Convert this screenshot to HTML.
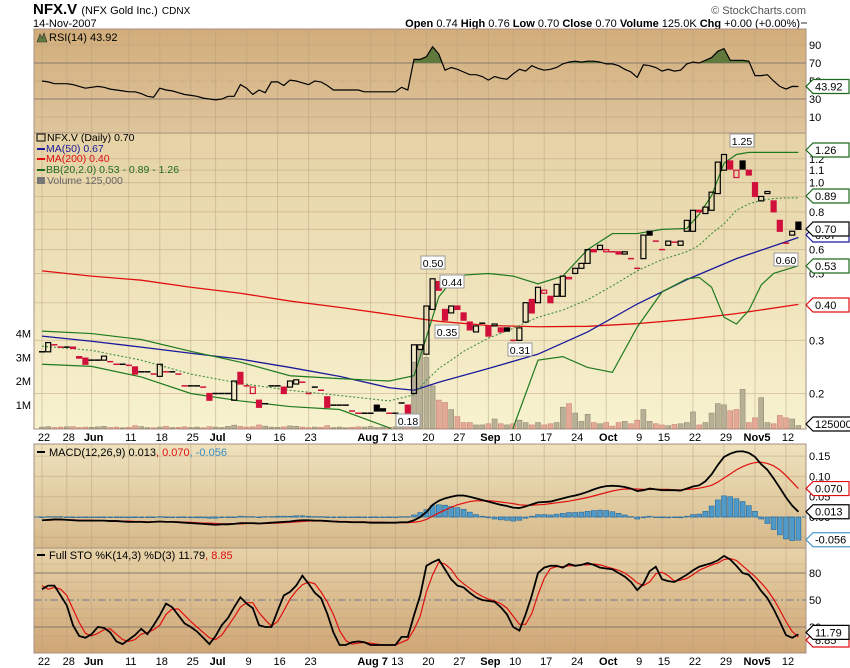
<!DOCTYPE html>
<html><head><meta charset="utf-8"><style>
html,body{margin:0;padding:0;background:#fff;width:850px;height:668px;overflow:hidden}
svg{display:block;font-family:"Liberation Sans",sans-serif}
</style></head><body>
<svg id="chart" width="850" height="668" viewBox="0 0 850 668" xmlns="http://www.w3.org/2000/svg">
<defs>
<linearGradient id="gRsi" x1="0" y1="0" x2="0" y2="1"><stop offset="0" stop-color="#d2ad7b"/><stop offset="1" stop-color="#dec59c"/></linearGradient>
<linearGradient id="gPrice" x1="0" y1="0" x2="0" y2="1"><stop offset="0" stop-color="#e5d2a5"/><stop offset="1" stop-color="#f8f2cf"/></linearGradient>
<linearGradient id="gMacd" x1="0" y1="0" x2="0" y2="1"><stop offset="0" stop-color="#eee2bd"/><stop offset="1" stop-color="#d6b98a"/></linearGradient>
<linearGradient id="gSto" x1="0" y1="0" x2="0" y2="1"><stop offset="0" stop-color="#e7d2a8"/><stop offset="1" stop-color="#cfa676"/></linearGradient>
<clipPath id="cRsi"><rect x="34" y="29" width="772" height="104"/></clipPath>
<clipPath id="cRsi70"><rect x="34" y="29" width="772" height="34"/></clipPath>
<clipPath id="cPrice"><rect x="34" y="133" width="772" height="296"/></clipPath>
<clipPath id="cMacd"><rect x="34" y="444" width="772" height="104"/></clipPath>
<clipPath id="cSto"><rect x="34" y="548" width="772" height="105"/></clipPath>
</defs>
<g>
<text x="33" y="14" font-size="15" font-weight="bold" fill="#000">NFX.V <tspan font-size="11" font-weight="normal">(NFX Gold Inc.)</tspan> <tspan font-size="10" font-weight="normal">CDNX</tspan></text>
<text x="33" y="27" font-size="11" fill="#000">14-Nov-2007</text>
<text x="806" y="14" font-size="11" fill="#555" text-anchor="end">© StockCharts.com</text>
<text x="800" y="27" font-size="11" fill="#000" text-anchor="end"><tspan font-weight="bold">Open</tspan> 0.74 <tspan font-weight="bold">High</tspan> 0.76 <tspan font-weight="bold">Low</tspan> 0.70 <tspan font-weight="bold">Close</tspan> 0.70 <tspan font-weight="bold">Volume</tspan> 125.0K <tspan font-weight="bold">Chg</tspan> +0.00 (+0.00%)</text>
<rect x="801" y="22" width="6" height="2" fill="#999"/>
</g>
<rect x="34" y="29" width="772" height="104" fill="url(#gRsi)" stroke="#a89080"/>
<rect x="34" y="133" width="772" height="296" fill="url(#gPrice)" stroke="#a89080"/>
<rect x="34" y="444" width="772" height="104" fill="url(#gMacd)" stroke="#a89080"/>
<rect x="34" y="548" width="772" height="105" fill="url(#gSto)" stroke="#a89080"/>
<g id="layer"></g>
</svg>
<script>
// ---------- data ----------
const weekIdx=[0,4,8,14,19,24,28,33,38,43,53,57,62,67,72,76,81,86,91,96,100,105,110,115,120];
const weekLabels=["22","28","Jun","11","18","25","Jul","9","16","23","Aug 7","13","20","27","Sep","10","17","24","Oct","9","15","22","29","Nov5","12"];
const weekBold=[0,0,1,0,0,0,1,0,0,0,1,0,0,0,1,0,0,0,1,0,0,0,0,1,0];
const opens=[.275,.275,.29,.285,.285,.285,.265,.262,.258,.258,.258,.255,.25,.25,.248,.245,.235,.236,.232,.228,.236,.236,.232,.212,.212,.212,.21,.2,.2,.2,.2,.19,.235,.212,.2,.19,.185,.212,.212,.21,.21,.215,.218,.2,.21,.205,.195,.183,.183,.183,.175,.172,.172,.172,.183,.178,.172,.172,.186,.183,.2,.28,.27,.38,.47,.38,.37,.39,.37,.345,.32,.342,.335,.335,.33,.33,.3,.3,.345,.41,.4,.43,.42,.42,.42,.48,.5,.52,.54,.6,.6,.59,.59,.59,.58,.56,.52,.56,.69,.64,.6,.62,.64,.62,.69,.69,.81,.79,.81,.92,1.1,1.18,1.04,1.18,1.1,1.0,.87,.92,.87,.75,.63,.67,.74];
const closes=[.275,.295,.29,.285,.285,.282,.262,.25,.258,.258,.266,.255,.25,.25,.248,.232,.236,.236,.232,.25,.236,.236,.232,.212,.212,.212,.21,.19,.2,.2,.2,.22,.215,.212,.21,.18,.185,.212,.212,.2,.22,.222,.218,.2,.21,.205,.18,.183,.183,.183,.175,.172,.172,.172,.175,.175,.172,.172,.186,.17,.29,.29,.39,.48,.44,.35,.39,.38,.35,.325,.335,.342,.31,.34,.32,.322,.3,.33,.4,.37,.45,.44,.4,.46,.49,.485,.52,.54,.6,.59,.62,.6,.59,.58,.59,.56,.52,.67,.67,.64,.6,.64,.635,.64,.75,.81,.8,.83,.93,1.17,1.24,1.11,1.1,1.11,1.06,.9,.9,.935,.8,.69,.63,.69,.70];
const volumes=[60,80,40,60,70,80,40,60,50,70,90,40,60,30,50,120,80,40,30,60,90,40,50,70,40,60,30,80,60,40,90,140,90,60,70,150,100,60,50,70,110,90,60,40,60,50,120,40,60,30,50,70,60,90,40,60,50,70,110,160,2800,3300,3000,1800,1200,1100,800,500,250,250,150,150,200,400,200,150,200,350,250,150,250,150,200,250,900,1050,650,300,600,250,200,250,100,250,300,200,350,800,300,200,150,120,170,200,250,700,150,250,650,1050,1000,750,800,1650,250,450,1300,250,200,550,450,400,125];
const maIdx=[0,8,16,24,32,40,48,56,60,64,72,80,88,96,104,112,122];
const ma50=[.31,.298,.285,.272,.26,.244,.228,.209,.205,.218,.242,.27,.32,.396,.477,.56,.658];
const ma200=[.51,.49,.475,.45,.43,.405,.386,.366,.356,.347,.336,.333,.334,.341,.352,.368,.395];
const bbIdx=[0,8,16,24,32,40,48,56,60,62,64,66,68,72,76,80,84,88,92,96,100,104,106,108,110,112,114,116,118,120,122];
const bbUpper=[.322,.316,.302,.276,.254,.229,.224,.22,.229,.307,.418,.47,.494,.5,.49,.462,.49,.6,.678,.678,.7,.705,.786,.905,1.16,1.24,1.26,1.26,1.26,1.26,1.26];
const bbMid=[.287,.278,.258,.232,.216,.205,.197,.189,.198,.221,.242,.258,.276,.305,.329,.358,.378,.409,.455,.51,.556,.59,.62,.678,.73,.81,.85,.874,.886,.89,.89];
const bbLower=[.25,.246,.227,.2,.189,.181,.177,.154,.132,.109,.074,.055,.055,.074,.154,.258,.265,.244,.235,.332,.434,.48,.485,.45,.358,.34,.377,.458,.5,.515,.53];
const rsi=[50,49,47,47,47,46,44,42,43,44,43,41,40,39,38,38,36,33,32,42,40,39,37,35,34,33,31,30,29,30,33,33,46,42,35,40,37,49,49,45,51,50,48,46,50,49,45,40,40,40,40,40,38,38,38,38,38,38,43,40,74,74,77,88,80,62,65,63,60,57,57,55,51,55,53,52,58,63,61,67,64,62,63,65,69,71,72,71,72,72,71,69,69,67,63,60,54,68,67,65,61,63,61,62,69,71,70,73,76,83,86,73,73,73,72,56,56,57,50,44,41,44,43.92];
const macd=[-8,-7,-6,-6,-7,-8,-9,-9,-9,-9,-9,-10,-10,-11,-12,-12,-12,-13,-12,-11,-12,-12,-13,-14,-15,-16,-17,-18,-19,-18,-18,-17,-15,-15,-15,-16,-15,-14,-13,-12,-11,-9,-8,-8,-9,-9,-10,-11,-12,-12,-13,-13,-13,-14,-14,-14,-14,-14,-13,-13,-8,0,12,30,40,46,50,53,53,50,46,42,38,34,30,27,23,22,26,31,36,37,38,42,46,50,53,57,62,68,73,76,77,76,74,70,64,66,70,68,66,66,66,65,70,75,78,88,105,128,148,156,161,162,158,148,130,116,95,72,48,28,13];
const signal=[-8,-8,-7,-7,-7,-7,-8,-8,-8,-9,-9,-9,-9,-10,-10,-11,-11,-12,-12,-12,-12,-12,-12,-13,-13,-14,-15,-15,-16,-17,-17,-17,-17,-16,-16,-16,-16,-15,-15,-14,-13,-12,-11,-10,-10,-10,-10,-10,-11,-11,-12,-12,-12,-13,-13,-13,-14,-14,-14,-14,-13,-11,-6,2,10,17,24,30,34,38,40,40,40,39,37,35,33,30,29,29,30,31,33,35,37,39,42,45,48,52,56,60,64,67,69,69,69,68,68,68,68,68,67,67,68,69,71,74,78,86,96,106,116,124,130,134,135,132,126,116,102,86,70];
const stoK=[62,66,66,55,44,22,10,8,12,20,19,14,4,1,6,11,18,12,22,33,46,42,33,24,20,15,8,1,10,22,30,42,53,46,41,22,20,20,38,55,59,66,77,68,58,52,35,14,0,0,3,4,3,0,0,0,0,0,9,9,33,55,88,92,95,84,73,66,64,58,53,50,49,48,42,34,20,16,34,55,80,86,88,88,86,90,88,89,91,89,86,85,84,80,76,70,61,68,82,87,73,71,70,74,78,83,87,89,91,94,99,95,88,80,78,70,60,52,40,26,11,8,11.79];
const stoD=[66,62,64,62,55,40,25,13,10,13,17,18,12,6,4,6,12,14,17,22,34,40,40,33,26,20,14,8,6,11,21,31,42,47,47,36,28,21,26,38,51,60,67,70,68,59,48,34,16,5,1,2,3,2,1,0,0,0,3,6,17,32,59,78,92,90,84,74,68,63,58,54,51,49,46,41,32,23,23,35,56,74,85,87,87,88,88,89,89,90,89,87,85,83,80,75,69,66,70,79,81,77,71,72,74,78,83,86,89,91,95,96,94,88,82,76,69,61,51,39,26,15,8.85];
const priceTicks=[1.2,1.1,1.0,0.9,0.8,0.7,0.6,0.5,0.4,0.3,0.2];
const volTicks=[4,3,2,1];
const rsiTicks=[90,70,50,30,10];
const macdTicks=[0.15,0.10,0.05,0.00];
const stoTicks=[80,50,20];

// ---------- scales ----------
const NS="http://www.w3.org/2000/svg";
const layer=document.getElementById('layer');
const X=i=>42+6.2*i;
const PY=p=>393.5-131*Math.log(p/0.2);
const VY=v=>428.5-v*0.0237;
const RY=v=>126-0.9*v;
const MY=v=>517-406*v;
const SY=v=>645-0.9*v;
function el(tag,attrs,parent){const e=document.createElementNS(NS,tag);for(const k in attrs)e.setAttribute(k,attrs[k]);(parent||layer).appendChild(e);return e;}
function grp(clip){const g=el('g',clip?{'clip-path':'url(#'+clip+')'}:{});return g;}

// vertical grid
const gv=grp();


weekIdx.forEach(i=>{[[29,133],[133,429],[444,548],[548,653]].forEach(r=>{
  const l=el('line',{x1:X(i),x2:X(i),y1:r[0],y2:r[1],stroke:'#b59c7c','stroke-opacity':0.45,'stroke-width':1},gv);
  
  
});});

// x axis labels
[441,665].forEach(yy=>{weekIdx.forEach((i,k)=>{
  const t=el('text',{x:X(i)+2,y:yy,'font-size':11,'text-anchor':'middle','font-weight':weekBold[k]?'bold':'normal',fill:'#000'});
  t.textContent=weekLabels[k];
  
  
});});

function rightLabel(y,txt){const t=el('text',{x:809,y:y+4,'font-size':11,fill:'#000'});t.textContent=txt;}
function valueBox(y,txt,col,w){w=w||36;const g=el('g',{});
  
  
  el('path',{d:`M806 ${y} L813 ${y-7} L${813+w} ${y-7} L${813+w} ${y+7} L813 ${y+7} Z`,fill:'#fff',stroke:col,'stroke-width':1.2},g);
  const t=el('text',{x:815,y:y+4,'font-size':11,fill:'#000'},g);t.textContent=txt;}
function annot(x,y,txt){const g=el('g',{});
  
  
  el('rect',{x:x-12,y:y-7,width:24,height:13,fill:'#fff',stroke:'#999'},g);
  const t=el('text',{x:x,y:y+4,'font-size':10.5,'text-anchor':'middle',fill:'#000'},g);t.textContent=txt;}

// ---------- RSI ----------
rsiTicks.forEach(v=>{
  const strong=(v===70||v===30);
  const l=el('line',{x1:34,x2:806,y1:RY(v),y2:RY(v),stroke:strong?'#8a7d6e':'#b59c7c','stroke-opacity':strong?1:0.45,'stroke-dasharray':v===50?'8,3,2,3':'none'});
  
  
  rightLabel(RY(v),String(v));
});
const rsiPts=rsi.map((v,i)=>X(i)+','+RY(v)).join(' ');
const rf=el('polygon',{points:X(0)+','+RY(70)+' '+rsiPts+' '+X(rsi.length-1)+','+RY(70),fill:'#5f7a3c','clip-path':'url(#cRsi70)'});


const rl=el('polyline',{points:rsiPts,fill:'none',stroke:'#000','stroke-width':1.2,'clip-path':'url(#cRsi)'});


valueBox(RY(43.92),'43.92','#1d6b1d');
{const g=el('g',{});
el('path',{d:'M37 42 L40 34 L42 38 L44 33 L47 42 Z',fill:'#5f7a3c',stroke:'#333','stroke-width':0.6},g);
const t=el('text',{x:49,y:41,'font-size':11,fill:'#000'},g);t.textContent='RSI(14) 43.92';}

// ---------- Price ----------
priceTicks.forEach(p=>{
  const l=el('line',{x1:34,x2:806,y1:PY(p),y2:PY(p),stroke:'#b59c7c','stroke-opacity':0.45});
  
  
  rightLabel(PY(p),p.toFixed(1));
});
volTicks.forEach(v=>{const t=el('text',{x:31,y:VY(v*1000)+4,'font-size':11,'text-anchor':'end',fill:'#000'});t.textContent=v+'M';
  });
const gp=grp('cPrice');
volumes.forEach((v,i)=>{
  const up=i===0||closes[i]>=closes[i-1];
  const r=el('rect',{x:X(i)-2.5,y:VY(v),width:5,height:428.5-VY(v),fill:up?'#b8b096':'#e4a896',stroke:up?'#958c74':'#c88876','stroke-width':0.6},gp);
  
  
});
function pline(idx,vals,col,w,dash,name){
  const l=el('polyline',{points:idx.map((i,k)=>X(i)+','+PY(vals[k])).join(' '),fill:'none',stroke:col,'stroke-width':w,'stroke-dasharray':dash||'none'},gp);
  
  
}
pline(maIdx,ma200,'#e01010',1.3,null,'ma200-line');
pline(maIdx,ma50,'#1a1a9a',1.3,null,'ma50-line');
pline(bbIdx,bbUpper,'#1f7a1f',1.2,null,'bb-upper-line');
pline(bbIdx,bbLower,'#1f7a1f',1.2,null,'bb-lower-line');
pline(bbIdx,bbMid,'#3f8f3f',1.1,'2,2','bb-middle-line');
opens.forEach((o,i)=>{
  const c=closes[i];
  const up=i===0||c>=closes[i-1];
  const col=up?'#000':'#d0103a';
  const y1=PY(Math.max(o,c)),y2=PY(Math.min(o,c));
  let m;
  if(Math.abs(y2-y1)<1.2){m=el('line',{x1:X(i)-3,x2:X(i)+3,y1:PY(c),y2:PY(c),stroke:col,'stroke-width':1.5},gp);}
  else{m=el('rect',{x:X(i)-2.5,y:y1,width:5,height:y2-y1,fill:c<o?col:'none',stroke:col,'stroke-width':1.2},gp);}
  
  
});
annot(742,141,'1.25');annot(786,260,'0.60');annot(433,263,'0.50');annot(452,282,'0.44');annot(447,332,'0.35');annot(520,350,'0.31');annot(408,421,'0.18');
valueBox(150,'1.26','#1d6b1d');valueBox(196,'0.89','#1d6b1d');valueBox(266,'0.53','#1d6b1d');
valueBox(235,'0.67','#1a1a9a');valueBox(229,'0.70','#000');valueBox(305,'0.40','#e01010');
valueBox(424,'125000','#000',38);
{const g=el('g',{});
const L=[['NFX.V (Daily) 0.70','#000',141],['MA(50) 0.67','#1a1a9a',152],['MA(200) 0.40','#e01010',162],['BB(20,2.0) 0.53 - 0.89 - 1.26','#1f6b1f',173],['Volume 125,000','#666',184]];
L.forEach((a,k)=>{if(k>0&&k<4)el('rect',{x:37,y:a[2]-4,width:8,height:2,fill:a[1]},g);
  if(k===0)el('rect',{x:37,y:a[2]-7,width:8,height:7,fill:'none',stroke:'#000'},g);
  if(k===4)el('rect',{x:37,y:a[2]-7,width:8,height:7,fill:'#777'},g);
  const t=el('text',{x:k===0||k===4?47:46,y:a[2],'font-size':10.5,fill:a[1]},g);t.textContent=a[0];});}

// ---------- MACD ----------
const gm=grp('cMacd');
[0.15,0.10,0.05,-0.05].forEach(v=>{const l=el('line',{x1:34,x2:806,y1:MY(v),y2:MY(v),stroke:'#b59c7c','stroke-opacity':0.45},gm);
  });
macdTicks.forEach(v=>rightLabel(MY(v),v.toFixed(2)));
{const z=el('line',{x1:34,x2:806,y1:MY(0),y2:MY(0),stroke:'#4a7aa0','stroke-dasharray':'8,3,2,3'},gm);}
macd.forEach((m,i)=>{const h=(m-signal[i])/1000;const y0=MY(0),y1=MY(h);
  const r=el('rect',{x:X(i)-2.5,y:Math.min(y0,y1),width:5,height:Math.max(0.6,Math.abs(y1-y0)),fill:'#4f9ac8',stroke:'#2a6a98','stroke-width':0.6},gm);
  });
{const s=el('polyline',{points:signal.map((v,i)=>X(i)+','+MY(v/1000)).join(' '),fill:'none',stroke:'#e01010','stroke-width':1.2},gm);
const m=el('polyline',{points:macd.map((v,i)=>X(i)+','+MY(v/1000)).join(' '),fill:'none',stroke:'#000','stroke-width':1.8},gm);}
valueBox(MY(0.070),'0.070','#e01010');valueBox(MY(0.013),'0.013','#000');valueBox(MY(-0.056),'-0.056','#4f9ac8',38);
{const g=el('g',{});
el('rect',{x:37,y:451,width:8,height:2,fill:'#000'},g);
const t=el('text',{x:49,y:456,'font-size':11,fill:'#000'},g);t.innerHTML='MACD(12,26,9) 0.013<tspan fill="#e01010">, 0.070</tspan><tspan fill="#3a8ec8">, -0.056</tspan>';}

// ---------- STO ----------
const gs=grp('cSto');
[90,70,60,40,30,10].forEach(v=>{const l=el('line',{x1:34,x2:806,y1:SY(v),y2:SY(v),stroke:'#b59c7c','stroke-opacity':0.4},gs);
  });
stoTicks.forEach(v=>{const l=el('line',{x1:34,x2:806,y1:SY(v),y2:SY(v),stroke:v===50?'#6a7890':'#857868','stroke-dasharray':v===50?'8,3,2,3':'none'},gs);
  rightLabel(SY(v),String(v));});
{const d=el('polyline',{points:stoD.map((v,i)=>X(i)+','+SY(v)).join(' '),fill:'none',stroke:'#e01010','stroke-width':1.2},gs);
const k=el('polyline',{points:stoK.map((v,i)=>X(i)+','+SY(v)).join(' '),fill:'none',stroke:'#000','stroke-width':1.8},gs);}
valueBox(SY(8.85)+3,'8.85','#e01010');valueBox(SY(11.79)-2,'11.79','#000');
{const g=el('g',{});
el('rect',{x:37,y:554,width:8,height:2,fill:'#000'},g);
const t=el('text',{x:49,y:559,'font-size':11,fill:'#000'},g);t.innerHTML='Full STO %K(14,3) %D(3) 11.79<tspan fill="#e01010">, 8.85</tspan>';}
</script>
</body></html>
